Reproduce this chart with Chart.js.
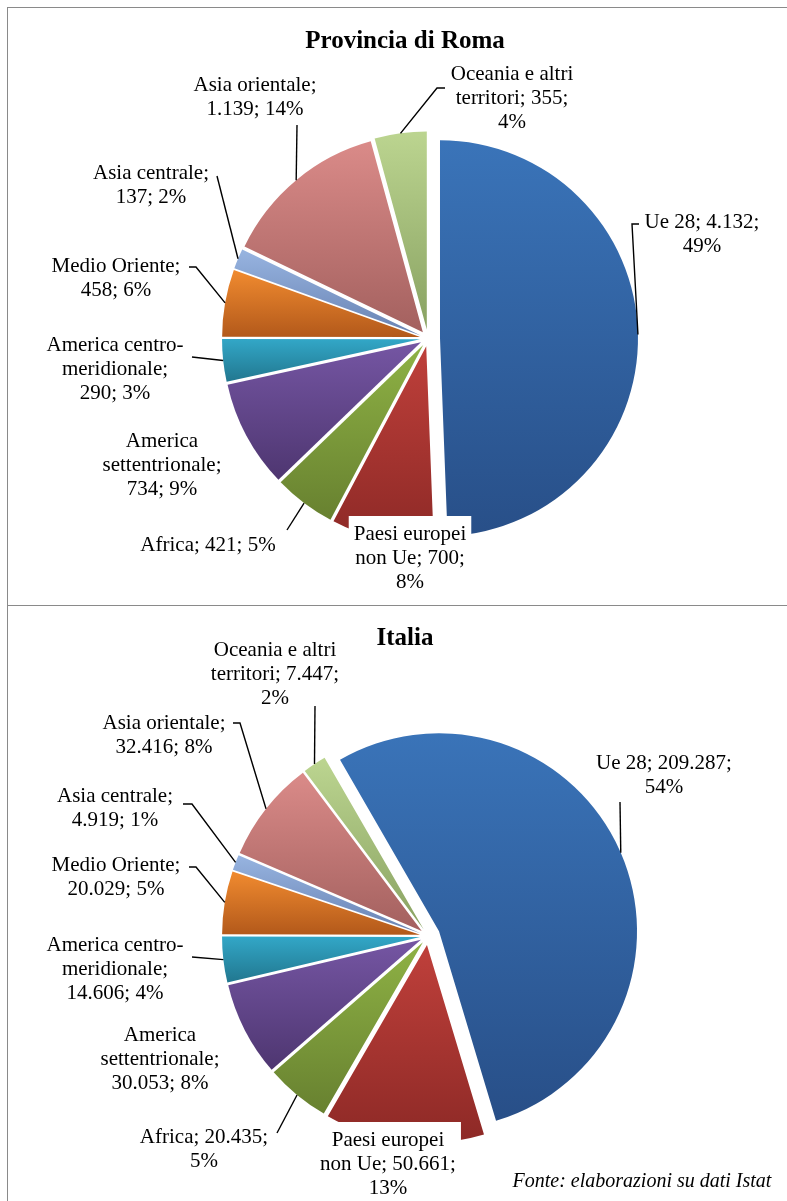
<!DOCTYPE html>
<html>
<head>
<meta charset="utf-8">
<script src="https://cdn.jsdelivr.net/npm/chart.js@4.4.1/dist/chart.umd.min.js"></script>
<style>
  html, body { margin: 0; padding: 0; background: #fff; }
  body { width: 787px; height: 1201px; position: relative; overflow: hidden; font-family: "Liberation Serif", "Times New Roman", serif; }
  .cornice { position: absolute; left: 7px; top: 7px; width: 820px; height: 1230px; border-left: 1.5px solid #8a8a8a; border-top: 1.5px solid #8a8a8a; }
  .divisore { position: absolute; left: 7px; top: 605px; width: 820px; border-top: 1.5px solid #8a8a8a; }
  canvas { position: absolute; left: 0; }
  #roma { top: 0; }
  #italia { top: 606px; }
  .titolo { position: absolute; left: 0; width: 810px; text-align: center; font-weight: bold; font-size: 25px; line-height: 30px; color: #000; }
  .fonte { position: absolute; left: 500px; width: 284px; top: 1168px; text-align: center; font-style: italic; font-size: 20px; line-height: 24px; color: #000; }
</style>
</head>
<body>
<div class="cornice"></div>
<div class="divisore"></div>
<canvas id="roma" width="787" height="606"></canvas>
<canvas id="italia" width="787" height="595"></canvas>
<div class="titolo" style="top:25px">Provincia di Roma</div>
<div class="titolo" style="top:622px">Italia</div>
<div class="fonte">Fonte: elaborazioni su dati Istat</div>
<script>
// dati
const categorie = ['Ue 28', 'Paesi europei non Ue', 'Africa', 'America settentrionale',
  'America centro-meridionale', 'Medio Oriente', 'Asia centrale', 'Asia orientale',
  'Oceania e altri territori'];
const valoriRoma = [4132, 700, 421, 734, 290, 458, 137, 1139, 355];
const percentualiRoma = [49, 8, 5, 9, 3, 6, 2, 14, 4];
const valoriItalia = [209287, 50661, 20435, 30053, 14606, 20029, 4919, 32416, 7447];
const percentualiItalia = [54, 13, 5, 8, 4, 5, 1, 8, 2];

// colori (sfumatura dall'alto al basso di ogni fetta)
const coloriChiari = ['#3a74b9', '#bd3f3a', '#8db044', '#7455a2', '#32a6c6', '#f28c30', '#99b6e2', '#dc8c8a', '#bed792'];
const coloriScuri = ['#284f88', '#8b2825', '#667f2f', '#4d356f', '#21768e', '#b45a1b', '#6a84b4', '#a56260', '#8ba464'];

// posizione etichette (coordinate della pagina)
const etichetteRoma = [
  { x: 702, y: 222, righe: [3, 1], guida: [[632, 224], [639, 224]] },
  { x: 410, y: 534, righe: [2, 3, 1], riquadro: true },
  { x: 208, y: 545, righe: [3], guida: [[287, 530]] },
  { x: 162, y: 441, righe: [1, 1, 2] },
  { x: 115, y: 345, righe: [2, 1, 2], guida: [[192, 357]] },
  { x: 116, y: 266, righe: [2, 2], guida: [[196, 267], [189, 267]] },
  { x: 151, y: 173, righe: [2, 2], guida: [[217, 176]] },
  { x: 255, y: 85, righe: [2, 2], guida: [[297, 125]] },
  { x: 512, y: 74, righe: [3, 2, 1], guida: [[437, 88], [445, 88]] }
];
const etichetteItalia = [
  { x: 664, y: 763, righe: [3, 1], guida: [[620, 802]] },
  { x: 388, y: 1140, righe: [2, 3, 1], riquadro: true },
  { x: 204, y: 1137, righe: [2, 1], guida: [[277, 1133]] },
  { x: 160, y: 1035, righe: [1, 1, 2] },
  { x: 115, y: 945, righe: [2, 1, 2], guida: [[192, 957]] },
  { x: 116, y: 865, righe: [2, 2], guida: [[196, 867], [189, 867]] },
  { x: 115, y: 796, righe: [2, 2], guida: [[192, 804], [183, 804]] },
  { x: 164, y: 723, righe: [2, 2], guida: [[240, 723], [233, 723]] },
  { x: 275, y: 650, righe: [3, 2, 1], guida: [[315, 706]] }
];

function migliaia(n) {
  return String(n).replace(/\B(?=(\d{3})+(?!\d))/g, '.');
}

function componiRighe(nome, valore, perc, conteggi) {
  const parole = (nome + '; ' + migliaia(valore) + '; ' + perc + '%').split(' ').flatMap(w => {
    const p = w.split('-');
    return p.map((x, k) => k < p.length - 1 ? x + '-' : x);
  });
  const righe = [];
  let k = 0;
  conteggi.forEach(n => {
    const pezzi = parole.slice(k, k + n);
    k += n;
    righe.push(pezzi.reduce((s, w) => s === '' ? w : (s.endsWith('-') ? s + w : s + ' ' + w), ''));
  });
  return righe;
}

// esplosione delle fette: sposta ogni arco lungo la sua bisettrice
const disegnaArco = Chart.ArcElement.prototype.draw;
Chart.ArcElement.prototype.draw = function (ctx) {
  const t = this.$esplosione || 0;
  const mid = (this.startAngle + this.endAngle) / 2;
  ctx.save();
  ctx.translate(Math.cos(mid) * t, Math.sin(mid) * t);
  disegnaArco.call(this, ctx);
  ctx.restore();
};

const esplosione = {
  id: 'esplosione',
  afterDatasetUpdate(chart, args) {
    const ds = chart.data.datasets[args.index];
    args.meta.data.forEach((arc, i) => { arc.$esplosione = ds.esplosione[i]; });
  }
};

function contiene(a0, a1, ang) {
  let t = ang - 6 * Math.PI;
  while (t < a0) t += 2 * Math.PI;
  return t <= a1;
}

function sfumatura(c) {
  const chart = c.chart, area = chart.chartArea, i = c.dataIndex;
  if (!area) return coloriChiari[i];
  const ds = c.dataset;
  const r = chart.getDatasetMeta(c.datasetIndex).controller.outerRadius || 198;
  const cx = (area.left + area.right) / 2, cy = (area.top + area.bottom) / 2;
  const tot = ds.data.reduce((a, b) => a + b, 0);
  let a0 = -Math.PI / 2 + (ds.rotation || 0) * Math.PI / 180;
  for (let j = 0; j < i; j++) a0 += 2 * Math.PI * ds.data[j] / tot;
  const a1 = a0 + 2 * Math.PI * ds.data[i] / tot;
  const mid = (a0 + a1) / 2;
  const t = ds.esplosione[i];
  const vy = cy + Math.sin(mid) * t;
  const ys = [vy, vy + r * Math.sin(a0), vy + r * Math.sin(a1)];
  if (contiene(a0, a1, Math.PI / 2)) ys.push(vy + r);
  if (contiene(a0, a1, -Math.PI / 2)) ys.push(vy - r);
  const g = chart.ctx.createLinearGradient(0, Math.min(...ys), 0, Math.max(...ys));
  g.addColorStop(0, coloriChiari[i]);
  g.addColorStop(1, coloriScuri[i]);
  return g;
}

function pluginEtichette(layout, percentuali, dy) {
  return {
    id: 'etichette',
    afterDatasetsDraw(chart) {
      const ctx = chart.ctx;
      const meta = chart.getDatasetMeta(0);
      const ds = chart.data.datasets[0];
      ctx.save();
      ctx.font = '21px "Liberation Serif", "Times New Roman", serif';
      ctx.textAlign = 'center';
      ctx.textBaseline = 'middle';
      ctx.strokeStyle = '#000';
      ctx.lineWidth = 1.4;
      meta.data.forEach((arc, i) => {
        const pos = layout[i];
        const righe = componiRighe(chart.data.labels[i], ds.data[i], percentuali[i], pos.righe);
        const mid = (arc.startAngle + arc.endAngle) / 2;
        const rr = arc.outerRadius + ds.esplosione[i];
        if (pos.guida) {
          ctx.beginPath();
          ctx.moveTo(arc.x + Math.cos(mid) * rr, arc.y + Math.sin(mid) * rr);
          pos.guida.forEach(p => ctx.lineTo(p[0], p[1] - dy));
          ctx.stroke();
        }
        if (pos.riquadro) {
          const w = Math.max(...righe.map(s => ctx.measureText(s).width)) + 10;
          ctx.fillStyle = '#fff';
          ctx.fillRect(pos.x - w / 2, pos.y - dy - 18, w, righe.length * 24 + 12);
        }
        ctx.fillStyle = '#000';
        righe.forEach((s, k) => ctx.fillText(s, pos.x, pos.y - dy + k * 24));
      });
      ctx.restore();
    }
  };
}

function creaTorta(id, valori, percentuali, layout, rotazione, scoppio, padding, dy) {
  return new Chart(document.getElementById(id), {
    type: 'pie',
    data: {
      labels: categorie,
      datasets: [{
        data: valori,
        rotation: rotazione,
        esplosione: scoppio,
        backgroundColor: sfumatura,
        borderWidth: 0,
        hoverOffset: 0
      }]
    },
    options: {
      responsive: false,
      animation: false,
      events: [],
      radius: 198,
      layout: { padding: padding },
      plugins: {
        legend: { display: false },
        title: { display: false },
        tooltip: { enabled: false }
      }
    },
    plugins: [esplosione, pluginEtichette(layout, percentuali, dy)]
  });
}

creaTorta('roma', valoriRoma, percentualiRoma, etichetteRoma, 0,
  [12, 8, 8, 8, 8, 8, 8, 8, 9], { left: 69, top: 71, right: 0, bottom: 0 }, 0);
creaTorta('italia', valoriItalia, percentualiItalia, etichetteItalia, -30,
  [12, 9, 8, 8, 8, 8, 8, 8, 8], { left: 69, top: 65, right: 0, bottom: 0 }, 606);
</script>
</body>
</html>
